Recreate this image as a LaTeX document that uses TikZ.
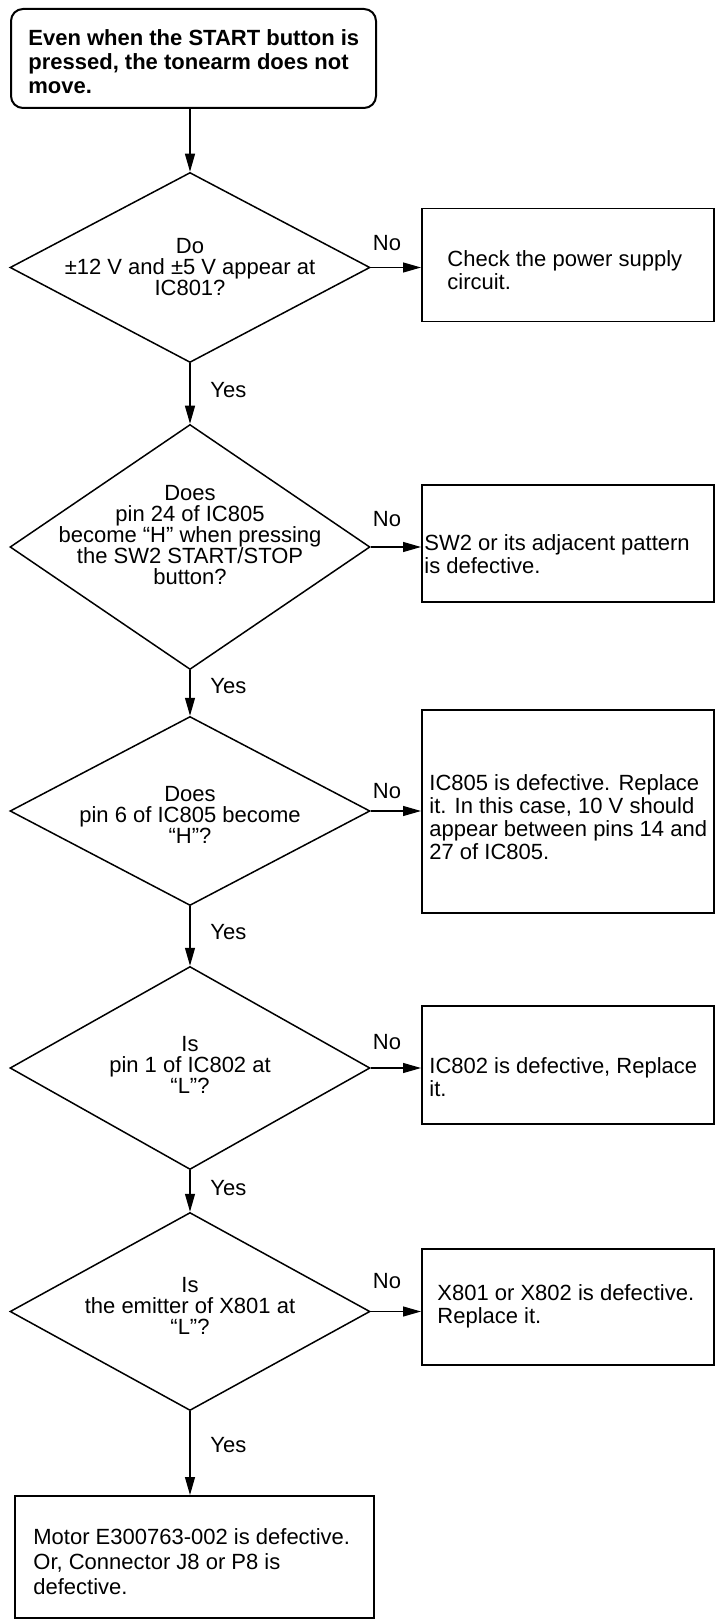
\documentclass[tikz,border=0pt]{standalone}
\usepackage{fontspec}
\setmainfont{Liberation Sans}
\usetikzlibrary{shapes.geometric,arrows.meta}

\tikzset{
  decide/.style={draw, line width=0.75pt, shape=diamond, inner sep=0pt, minimum width=180pt},
  answer/.style={draw, line width=0.75pt, rectangle, inner sep=0pt, anchor=north west, minimum width=146pt},
  txt/.style={inner sep=0pt, font=\fontsize{11}{10.5}\selectfont},
  boxtxt/.style={inner sep=0pt, anchor=west, align=left, font=\fontsize{11}{11.5}\selectfont},
  flow/.style={line width=0.6pt, -{Triangle[length=9pt,width=5pt]}}
}

\begin{document}
\begin{tikzpicture}[x=0.5pt, y=-0.5pt]
   \useasboundingbox (0, 0) rectangle (715, 1620);
   % \draw[help lines, step=50] (0, 0) grid (715, 1620);
   \node [draw, line width=1pt, rounded corners=6pt, anchor=north west,
          minimum width=182.5pt, minimum height=49.5pt] (start) at (10, 8) {};
   \node [boxtxt, font=\bfseries\fontsize{11}{12}\selectfont] (starttext) at (28, 62)
         {Even when the START button is\\pressed, the tonearm does not\\move.};

   \node [decide, minimum height=95pt] (q1) at (190, 267.5) {};
   \node [decide, minimum height=122.5pt] (q2) at (190, 547) {};
   \node [decide, minimum height=94.5pt] (q3) at (190, 811) {};
   \node [decide, minimum height=101.5pt] (q4) at (190, 1068) {};
   \node [decide, minimum height=99pt] (q5) at (190, 1311.5) {};

   \node [txt, align=center] (q1text) at (190, 267) {Do\\±12 V and ±5 V appear at\\IC801?};
   \node [txt, align=center] (q2text) at (190, 535.5) {Does\\pin 24 of IC805\\become “H” when pressing\\the SW2 START/STOP\\button?};
   \node [txt, align=center] (q3text) at (190, 815) {Does\\pin 6 of IC805 become\\“H”?};
   \node [txt, align=center] (q4text) at (190, 1064.5) {Is\\pin 1 of IC802 at\\“L”?};
   \node [txt, align=center] (q5text) at (190, 1305.5) {Is\\the emitter of X801 at\\“L”?};

   \node [answer, minimum height=56.5pt] (a1) at (421, 208) {};
   \node [answer, minimum height=58.5pt] (a2) at (421, 484) {};
   \node [answer, minimum height=101.5pt] (a3) at (421, 709) {};
   \node [answer, minimum height=59pt] (a4) at (421, 1005) {};
   \node [answer, minimum height=58pt] (a5) at (421, 1248) {};
   \node [answer, minimum width=179.5pt, minimum height=61pt] (fin) at (14, 1495) {};

   \node [boxtxt] (a1text) at (447, 270.5) {Check the power supply\\circuit.};
   \node [boxtxt] (a2text) at (424, 554) {SW2 or its adjacent pattern\\is defective.};
   \node [boxtxt] (a3text) at (429, 817.5) {IC805 is defective. Replace\\it. In this case, 10 V should\\appear between pins 14 and\\27 of IC805.};
   \node [boxtxt] (a4text) at (429, 1077) {IC802 is defective, Replace\\it.};
   \node [boxtxt] (a5text) at (437, 1306.5) {X801 or X802 is defective.\\Replace it.};
   \node [boxtxt, font=\fontsize{11}{12.5}\selectfont] (fintext) at (33, 1562) {Motor E300763-002 is defective.\\Or, Connector J8 or P8 is\\defective.};

   % down the Yes branch
   \draw [flow] (q1.north |- start.south) -- (q1.north);
   \draw [flow] (q1.south) -- (q2.north);
   \draw [flow] (q2.south) -- (q3.north);
   \draw [flow] (q3.south) -- (q4.north);
   \draw [flow] (q4.south) -- (q5.north);
   \draw [flow] (q5.south) -- (q5.south |- fin.north);
   % out to the No boxes
   \draw [flow] (q1.east) -- (q1.east -| a1.west);
   \draw [flow] (q2.east) -- (q2.east -| a2.west);
   \draw [flow] (q3.east) -- (q3.east -| a3.west);
   \draw [flow] (q4.east) -- (q4.east -| a4.west);
   \draw [flow] (q5.east) -- (q5.east -| a5.west);

   \node [txt] (no1) at (387, 243) {No};
   \node [txt] (no2) at (387, 519) {No};
   \node [txt] (no3) at (387, 791) {No};
   \node [txt] (no4) at (387, 1042) {No};
   \node [txt] (no5) at (387, 1281) {No};
   \node [txt, anchor=west] (yes1) at (210, 390) {Yes};
   \node [txt, anchor=west] (yes2) at (210, 686) {Yes};
   \node [txt, anchor=west] (yes3) at (210, 932) {Yes};
   \node [txt, anchor=west] (yes4) at (210, 1188) {Yes};
   \node [txt, anchor=west] (yes5) at (210, 1445) {Yes};
\end{tikzpicture}
\end{document}
